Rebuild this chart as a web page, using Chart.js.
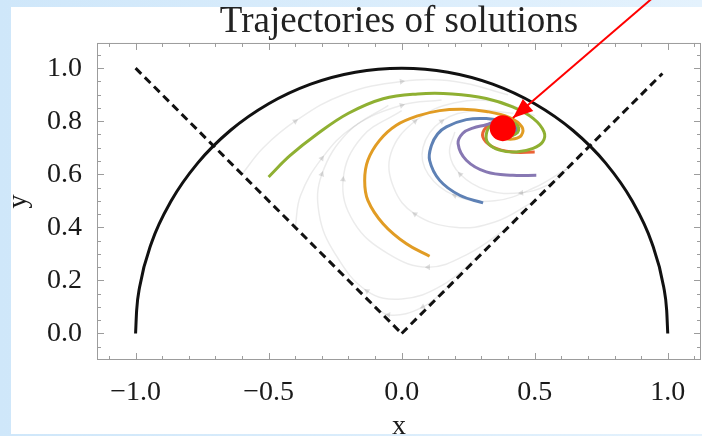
<!DOCTYPE html>
<html>
<head>
<meta charset="utf-8">
<script src="https://cdn.jsdelivr.net/npm/chart.js@4.4.1/dist/chart.umd.min.js"></script>
<style>
  html, body { margin: 0; padding: 0; width: 702px; height: 436px; overflow: hidden; }
  body { position: relative; background: linear-gradient(to right, #cfe7fa 0%, #e4f2fd 100%); }
  #panel { position: absolute; left: 11px; top: 7px; width: 691px; height: 427px; background: #fff; }
  #wrap { position: absolute; left: 0; top: 0; width: 702px; height: 436px; }
</style>
</head>
<body>
<div id="panel"></div>
<div id="wrap"><canvas id="chart"></canvas></div>
<script>
// tick labels
const xTicks = [-1.0, -0.5, 0.0, 0.5, 1.0];
const yTicks = [0.0, 0.2, 0.4, 0.6, 0.8, 1.0];

// unit semicircle (boundary)
const circlePath = [
    [-1.000, 0.000], [-0.996, 0.087], [-0.985, 0.174], [-0.940, 0.342], [-0.866, 0.500], [-0.766, 0.643],
    [-0.643, 0.766], [-0.500, 0.866], [-0.342, 0.940], [-0.174, 0.985], [0.000, 1.000],
    [0.174, 0.985], [0.342, 0.940], [0.500, 0.866], [0.643, 0.766], [0.766, 0.643],
    [0.866, 0.500], [0.940, 0.342], [0.985, 0.174], [0.996, 0.087], [1.000, 0.000]
];

// dashed wedge
const leftDiag = [[-1.0, 1.0], [0.0, 0.0]];
const rightDiag = [[0.0, 0.0], [0.98, 0.98]];

// solutions
const bluePath = [
    [0.306, 0.492], [0.218, 0.521], [0.143, 0.577], [0.105, 0.653], [0.112, 0.709],
    [0.135, 0.752], [0.168, 0.779], [0.243, 0.806], [0.318, 0.810], [0.394, 0.797],
    [0.430, 0.775], [0.425, 0.752], [0.390, 0.750], [0.370, 0.770], [0.385, 0.785]
];
const orangePath = [
    [0.105, 0.291], [0.018, 0.338], [-0.070, 0.414], [-0.127, 0.502], [-0.139, 0.577],
    [-0.127, 0.653], [-0.083, 0.728], [-0.020, 0.785], [0.060, 0.820], [0.143, 0.840],
    [0.230, 0.845], [0.318, 0.837], [0.406, 0.814], [0.452, 0.779], [0.450, 0.747],
    [0.425, 0.734], [0.390, 0.735], [0.360, 0.755], [0.360, 0.785], [0.390, 0.800],
    [0.415, 0.785], [0.405, 0.765], [0.385, 0.775]
];
const greenPath = [
    [-0.500, 0.590], [-0.420, 0.670], [-0.320, 0.750], [-0.200, 0.830], [-0.070, 0.885],
    [0.060, 0.903], [0.190, 0.903], [0.318, 0.886], [0.417, 0.854], [0.494, 0.811],
    [0.535, 0.760], [0.530, 0.722], [0.494, 0.698], [0.431, 0.684], [0.368, 0.691],
    [0.325, 0.717], [0.318, 0.750], [0.335, 0.785], [0.375, 0.800], [0.420, 0.795],
    [0.440, 0.770], [0.420, 0.748], [0.385, 0.748], [0.365, 0.770], [0.385, 0.788]
];
const redPath = [
    [0.500, 0.684], [0.417, 0.684], [0.343, 0.703], [0.305, 0.741], [0.320, 0.780],
    [0.360, 0.800], [0.400, 0.795], [0.420, 0.770], [0.400, 0.755], [0.380, 0.770]
];
const purplePath = [
    [0.506, 0.596], [0.418, 0.596], [0.318, 0.609], [0.243, 0.653], [0.212, 0.716],
    [0.230, 0.755], [0.267, 0.774], [0.318, 0.787], [0.360, 0.800], [0.400, 0.790],
    [0.410, 0.765], [0.385, 0.760], [0.375, 0.775]
];

// faint stream lines of the field (listed in flow direction)
const streamLines = [
    [[-0.60, 0.60], [-0.52, 0.70], [-0.40, 0.80], [-0.22, 0.90], [0.00, 0.95], [0.20, 0.95], [0.40, 0.90]],
    [[-0.40, 0.40], [-0.38, 0.52], [-0.30, 0.66], [-0.18, 0.78], [0.00, 0.86], [0.15, 0.88]],
    [[0.30, 0.30], [0.15, 0.18], [0.00, 0.13], [-0.13, 0.16], [-0.25, 0.30], [-0.31, 0.45], [-0.30, 0.60], [-0.20, 0.76], [-0.05, 0.86]],
    [[0.40, 0.40], [0.25, 0.30], [0.10, 0.25], [-0.05, 0.30], [-0.18, 0.42], [-0.22, 0.58], [-0.15, 0.74], [0.00, 0.84]],
    [[0.50, 0.50], [0.35, 0.42], [0.20, 0.40], [0.05, 0.45], [-0.03, 0.55], [-0.04, 0.68], [0.05, 0.80], [0.20, 0.87], [0.38, 0.87], [0.50, 0.82]],
    [[0.62, 0.62], [0.50, 0.55], [0.35, 0.50], [0.20, 0.52], [0.10, 0.60], [0.08, 0.70], [0.15, 0.80], [0.28, 0.84], [0.42, 0.83]],
    [[0.62, 0.62], [0.55, 0.56], [0.45, 0.53], [0.32, 0.54], [0.22, 0.60], [0.18, 0.68], [0.20, 0.76]],
    [[0.20, 0.20], [0.08, 0.10], [-0.05, 0.07], [-0.12, 0.12]]
];

// fixed point and the arrow pointing at it
const fixedPoint = [[0.38, 0.774]];
const arrowPath = [[0.94, 1.262], [0.418, 0.812]];

const toXY = arr => arr.map(p => ({ x: p[0], y: p[1] }));
const fmt = v => (v < 0 ? '\u2212' : '') + Math.abs(v).toFixed(1);
const serif = "'Liberation Serif', 'Times New Roman', serif";

function curve(path, color, width, order, extra) {
    return Object.assign({
        data: toXY(path), showLine: true, borderColor: color, borderWidth: width,
        pointRadius: 0, tension: 0.4, fill: false, order: order
    }, extra || {});
}

// small arrow heads along a stream line, pointing along the flow
function streamArrows(path) {
    const n = path.length;
    const marks = [Math.floor(n / 3), Math.floor(2 * n / 3)];
    return {
        pointStyle: 'triangle',
        pointRadius: c => marks.includes(c.dataIndex) ? 3.5 : 0,
        pointBackgroundColor: 'rgba(0,0,0,0.13)',
        pointBorderWidth: 0,
        pointRotation: c => {
            const i = c.dataIndex;
            const a = path[Math.max(i - 1, 0)], b = path[Math.min(i + 1, n - 1)];
            return Math.atan2(b[0] - a[0], b[1] - a[1]) * 180 / Math.PI;
        }
    };
}

const datasets = [];
datasets.push(curve(arrowPath, '#ff0000', 2, 0, { tension: 0, clip: false }));
datasets.push({ data: toXY(fixedPoint), pointRadius: 13, pointBackgroundColor: '#ff0000', pointBorderWidth: 0, showLine: false, order: 1 });
datasets.push(curve(purplePath, '#8778B3', 3, 2));
datasets.push(curve(greenPath, '#8FB032', 3, 3));
datasets.push(curve(redPath, '#EB6235', 3, 4));
datasets.push(curve(orangePath, '#E19C24', 3, 5));
datasets.push(curve(bluePath, '#5E81B5', 3, 6));
datasets.push(curve(circlePath, '#111111', 3, 7, { cubicInterpolationMode: 'monotone' }));
datasets.push(curve(leftDiag, '#111111', 3, 8, { tension: 0, borderDash: [8, 5] }));
datasets.push(curve(rightDiag, '#111111', 3, 8, { tension: 0, borderDash: [8, 5] }));
streamLines.forEach(s => datasets.push(curve(s, 'rgba(0,0,0,0.08)', 1.5, 9, streamArrows(s))));

// frame with inward ticks (Mathematica style)
const framePlugin = {
    id: 'frame',
    beforeDatasetsDraw(chart) {
        const { ctx, chartArea: a, scales: { x, y } } = chart;
        ctx.save();
        ctx.strokeStyle = '#9c9c9c';
        ctx.lineWidth = 1;
        ctx.strokeRect(a.left + 0.5, a.top + 0.5, a.right - a.left - 1, a.bottom - a.top - 1);
        ctx.beginPath();
        for (let k = -11; k <= 11; k++) {
            const px = Math.round(x.getPixelForValue(k / 10)) + 0.5;
            const len = k % 5 === 0 ? 7 : 4;
            ctx.moveTo(px, a.bottom); ctx.lineTo(px, a.bottom - len);
            ctx.moveTo(px, a.top); ctx.lineTo(px, a.top + len);
        }
        for (let k = -1; k <= 21; k++) {
            const py = Math.round(y.getPixelForValue(k / 20)) + 0.5;
            const len = k % 4 === 0 ? 7 : 4;
            ctx.moveTo(a.left, py); ctx.lineTo(a.left + len, py);
            ctx.moveTo(a.right, py); ctx.lineTo(a.right - len, py);
        }
        ctx.stroke();
        ctx.restore();
    },
    afterDatasetsDraw(chart) {
        // arrow head at the end of the red line
        const meta = chart.getDatasetMeta(0);
        const p0 = meta.data[0], p1 = meta.data[1];
        const ang = Math.atan2(p1.y - p0.y, p1.x - p0.x);
        const L = 20, W = 8;
        const ctx = chart.ctx;
        ctx.save();
        ctx.fillStyle = '#ff0000';
        ctx.beginPath();
        ctx.moveTo(p1.x, p1.y);
        ctx.lineTo(p1.x - L * Math.cos(ang) + W * Math.sin(ang), p1.y - L * Math.sin(ang) - W * Math.cos(ang));
        ctx.lineTo(p1.x - L * Math.cos(ang) - W * Math.sin(ang), p1.y - L * Math.sin(ang) + W * Math.cos(ang));
        ctx.closePath();
        ctx.fill();
        ctx.restore();
    }
};

new Chart(document.getElementById('chart'), {
    type: 'scatter',
    data: { datasets: datasets },
    plugins: [framePlugin],
    options: {
        responsive: true,
        maintainAspectRatio: false,
        animation: false,
        events: [],
        layout: { autoPadding: false, padding: { left: 0, right: 1, top: 7, bottom: 0 } },
        plugins: {
            legend: { display: false },
            tooltip: { enabled: false },
            title: {
                display: true,
                text: 'Trajectories of solutions',
                fullSize: false,
                color: '#222',
                font: { family: serif, size: 37, weight: 'normal', lineHeight: 0.81 },
                padding: { top: 0, bottom: 6 }
            }
        },
        scales: {
            x: {
                type: 'linear',
                min: -1.145,
                max: 1.125,
                grid: { display: false },
                border: { display: false },
                afterBuildTicks: s => { s.ticks = xTicks.map(v => ({ value: v })); },
                afterFit: s => { s.height = 76; s.paddingLeft = 0; s.paddingRight = 0; },
                ticks: { padding: 8, color: '#1a1a1a', font: { family: serif, size: 28 }, callback: v => fmt(v) },
                title: { display: true, text: 'x', color: '#1a1a1a', font: { family: serif, size: 28, lineHeight: 0.66 }, padding: 0 }
            },
            y: {
                type: 'linear',
                min: -0.1,
                max: 1.095,
                grid: { display: false },
                border: { display: false },
                afterBuildTicks: s => { s.ticks = yTicks.map(v => ({ value: v })); },
                afterFit: s => { s.width = 97; s.paddingTop = 0; s.paddingBottom = 0; },
                ticks: { padding: 7, color: '#1a1a1a', font: { family: serif, size: 28 }, callback: v => fmt(v) },
                title: { display: true, text: 'y', color: '#1a1a1a', font: { family: serif, size: 28, lineHeight: 1.35 }, padding: 0 }
            }
        }
    }
});
</script>
</body>
</html>
